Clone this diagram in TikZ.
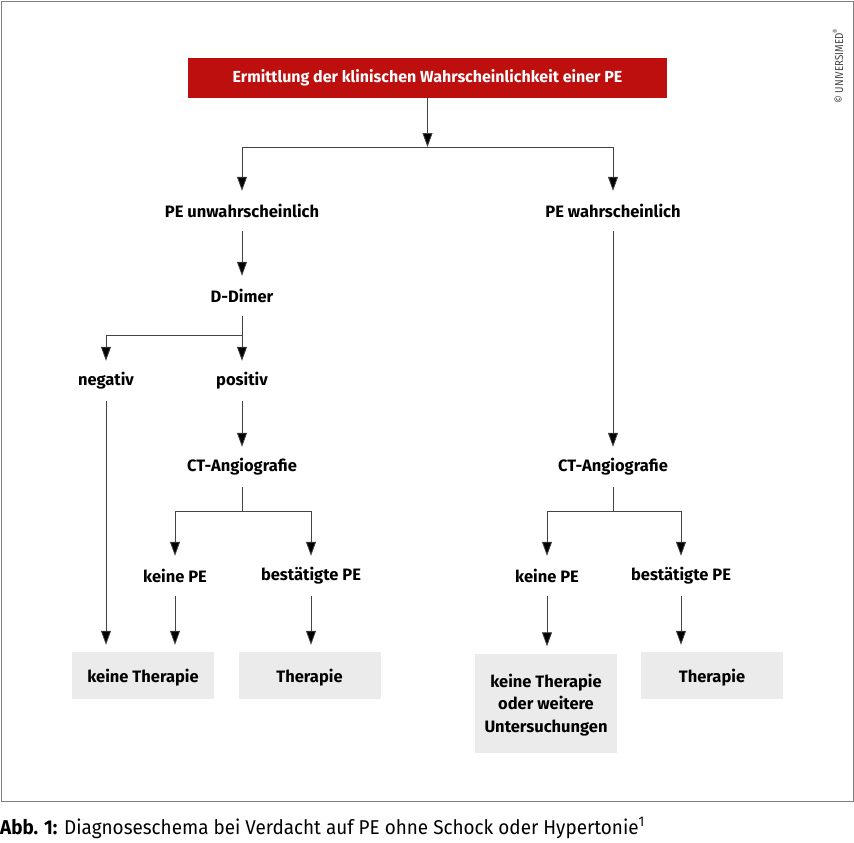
\documentclass[tikz,border=0pt]{standalone}
\usepackage{fontspec}
\setmainfont{Fira Sans}
\newfontfamily\capfont{Fira Sans}[FakeStretch=0.945]
\newfontfamily\narrowfont{Fira Sans}[FakeStretch=0.85]
\usetikzlibrary{arrows.meta}
\definecolor{pered}{HTML}{BE0F0F}
\definecolor{boxgray}{HTML}{EBEBEB}
\definecolor{linegray}{HTML}{444444}
\tikzset{
  lbl/.style={font=\fontsize{16.5}{19}\selectfont\bfseries, minimum height=40pt, inner sep=0pt},
  res/.style={fill=boxgray, font=\fontsize{16.5}{22.5}\selectfont\bfseries, minimum width=142pt, align=center, inner sep=0pt, text depth=0pt},
  arr/.style={draw=linegray, line width=0.8pt, -{Triangle[width=10pt,length=14pt,fill=black]}},
  wire/.style={draw=linegray, line width=0.8pt}
}
\begin{document}
\begin{tikzpicture}[x=1pt,y=-1pt]
  \useasboundingbox (0,0) rectangle (854,843);
  \draw[draw=gray, line width=0.8pt] (1,1) rectangle (853,801); % frame
  % title
  \node[fill=pered, text=white, font=\fontsize{16}{19}\selectfont\bfseries, minimum width=479pt, minimum height=40pt, inner sep=0pt] (title) at (427.5,78) {Ermittlung der klinischen Wahrscheinlichkeit einer PE};
  \node[rotate=90, text=linegray, font=\fontsize{11.5}{13}\narrowfont] (copy) at (838,66) {\textcopyright{} UNIVERSIMED\textsuperscript{\textregistered}};
  % labels
  \node[lbl] (pu) at (242,211) {PE unwahrscheinlich};
  \node[lbl] (pw) at (613,211) {PE wahrscheinlich};
  \node[lbl] (dd) at (242,296) {D-Dimer};
  \node[lbl] (neg) at (106,381) {negativ};
  \node[lbl] (pos) at (242,381) {positiv};
  \node[lbl] (ctl) at (242,467) {CT-Angiografie};
  \node[lbl] (ctr) at (613,467) {CT-Angiografie};
  \node[lbl] (kpl) at (175,576) {keine PE};
  \node[lbl] (bpl) at (311,576) {bestätigte PE};
  \node[lbl] (kpr) at (547,576) {keine PE};
  \node[lbl] (bpr) at (681,576) {bestätigte PE};
  % result boxes
  \node[res, minimum height=47pt] (ktl) at (143,675.5) {keine Therapie};
  \node[res, minimum height=47pt] (thl) at (309.5,675.5) {Therapie};
  \node[res, minimum height=99pt] (ktr) at (546,703) {keine Therapie\\oder weitere\\Untersuchungen};
  \node[res, minimum height=47pt] (thr) at (712,675.5) {Therapie};
  % junctions
  \coordinate (j1) at (427.5,147);
  \coordinate (j2) at (242,335);
  \coordinate (j3) at (242,511);
  \coordinate (j4) at (613,511);
  % connectors
  \draw[arr] (title) -- (j1);
  \draw[arr] (j1) -| (pu);
  \draw[arr] (j1) -| (pw);
  \draw[arr] (pu) -- (dd);
  \draw[wire] (dd) -- (j2);
  \draw[arr] (j2) -| (neg);
  \draw[arr] (j2) -- (pos);
  \draw[arr] (pos) -- (ctl);
  \draw[arr] (pw) -- (ctr);
  \draw[wire] (ctl) -- (j3);
  \draw[arr] (j3) -| (kpl);
  \draw[arr] (j3) -| (bpl);
  \draw[wire] (ctr) -- (j4);
  \draw[arr] (j4) -| (kpr);
  \draw[arr] (j4) -| (bpr);
  \draw[arr, shorten >=7pt] (neg) -- (neg |- ktl.north);
  \draw[arr, shorten >=7pt] (kpl) -- (kpl |- ktl.north);
  \draw[arr, shorten >=7pt] (bpl) -- (bpl |- thl.north);
  \draw[arr, shorten >=7pt] (kpr) -- (kpr |- ktr.north);
  \draw[arr, shorten >=7pt] (bpr) -- (bpr |- thr.north);
  % caption
  \node[anchor=base west, inner sep=0pt, font=\fontsize{20}{24}\capfont] (cap) at (0,834) {\textbf{Abb. 1:} Diagnoseschema bei Verdacht auf PE ohne Schock oder Hypertonie\textsuperscript{1}};
\end{tikzpicture}
\end{document}
